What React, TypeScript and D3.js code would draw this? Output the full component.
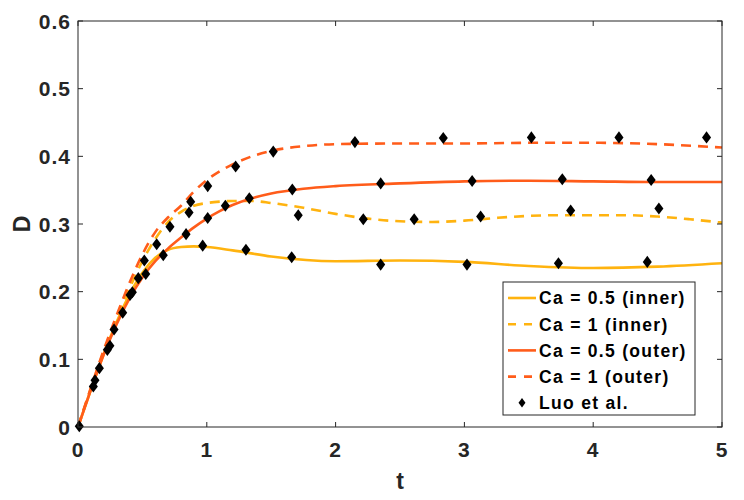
import React from 'react';
import * as d3 from 'd3';

// curve samples
const tInner05 = [0, 0.1, 0.2, 0.3, 0.4, 0.5, 0.6, 0.7, 0.8, 0.9, 1.0, 1.2, 1.5, 2, 2.5, 3, 3.5, 4, 4.5, 5];
const dInner05 = [0, 0.055, 0.108, 0.155, 0.196, 0.228, 0.25, 0.262, 0.266, 0.267, 0.266, 0.261, 0.252, 0.245, 0.246, 0.244, 0.238, 0.235, 0.237, 0.242];

const tInner1 = [0, 0.1, 0.2, 0.3, 0.4, 0.5, 0.6, 0.7, 0.8, 0.9, 1.0, 1.1, 1.2, 1.35, 1.5, 1.75, 2, 2.25, 2.5, 2.75, 3, 3.25, 3.5, 3.75, 4, 4.25, 4.5, 4.75, 5];
const dInner1 = [0, 0.057, 0.112, 0.16, 0.205, 0.245, 0.278, 0.303, 0.318, 0.327, 0.331, 0.333, 0.334, 0.334, 0.331, 0.324, 0.315, 0.308, 0.304, 0.303, 0.305, 0.309, 0.312, 0.313, 0.313, 0.313, 0.311, 0.307, 0.302];

const tOuter05 = [0, 0.1, 0.2, 0.3, 0.4, 0.5, 0.6, 0.7, 0.8, 0.9, 1.0, 1.1, 1.2, 1.35, 1.5, 1.75, 2, 2.5, 3, 3.5, 4, 4.5, 5];
const dOuter05 = [0, 0.055, 0.107, 0.152, 0.19, 0.221, 0.245, 0.264, 0.28, 0.295, 0.308, 0.319, 0.328, 0.338, 0.345, 0.352, 0.356, 0.36, 0.363, 0.364, 0.363, 0.362, 0.362];

const tOuter1 = [0, 0.1, 0.2, 0.3, 0.4, 0.5, 0.6, 0.7, 0.8, 0.9, 1.0, 1.1, 1.2, 1.35, 1.5, 1.75, 2, 2.5, 3, 3.5, 4, 4.5, 5];
const dOuter1 = [0, 0.058, 0.114, 0.165, 0.213, 0.255, 0.288, 0.31, 0.327, 0.348, 0.365, 0.378, 0.388, 0.4, 0.408, 0.415, 0.418, 0.419, 0.419, 0.42, 0.42, 0.418, 0.413];

// Luo et al. markers
const luoT = [0.01, 0.119, 0.132, 0.166, 0.228, 0.248, 0.28, 0.347, 0.404, 0.422, 0.468, 0.526, 0.515, 0.662, 0.611, 0.714, 0.839, 0.862, 0.875, 0.968, 1.007, 1.007, 1.144, 1.224, 1.304, 1.33, 1.516, 1.659, 1.664, 1.71, 2.15, 2.215, 2.35, 2.35, 2.61, 2.836, 3.02, 3.06, 3.126, 3.52, 3.73, 3.76, 3.825, 4.2, 4.42, 4.45, 4.51, 4.88];
const luoD = [0.001, 0.06, 0.069, 0.087, 0.114, 0.12, 0.144, 0.169, 0.195, 0.199, 0.22, 0.226, 0.246, 0.254, 0.27, 0.296, 0.285, 0.317, 0.333, 0.268, 0.356, 0.309, 0.327, 0.385, 0.262, 0.338, 0.407, 0.251, 0.351, 0.313, 0.421, 0.307, 0.36, 0.24, 0.307, 0.427, 0.24, 0.3635, 0.311, 0.428, 0.242, 0.366, 0.32, 0.428, 0.244, 0.365, 0.323, 0.428];

const xTicks = [0, 1, 2, 3, 4, 5];
const yTicks = [0, 0.1, 0.2, 0.3, 0.4, 0.5, 0.6];

const INNER = '#ffb30f';
const OUTER = '#ff5c1a';
const INK = '#262626';
const FONT = '"Liberation Sans", Arial, Helvetica, sans-serif';

const series = [
  { name: 'Ca = 0.5 (inner)', t: tInner05, d: dInner05, color: INNER, dash: null },
  { name: 'Ca = 1 (inner)', t: tInner1, d: dInner1, color: INNER, dash: '10,7' },
  { name: 'Ca = 0.5 (outer)', t: tOuter05, d: dOuter05, color: OUTER, dash: null },
  { name: 'Ca = 1 (outer)', t: tOuter1, d: dOuter1, color: OUTER, dash: '10,7' },
];

export default function App() {
  const width = 744, height = 500;
  const margin = { top: 21, right: 22, bottom: 73, left: 78 };

  const x = d3.scaleLinear().domain([0, 5]).range([margin.left, width - margin.right]);
  const y = d3.scaleLinear().domain([0, 0.6]).range([height - margin.bottom, margin.top]);

  const line = d3.line<[number, number]>()
    .x(p => x(p[0]))
    .y(p => y(p[1]))
    .curve(d3.curveMonotoneX);

  const diamond = d3.symbol().type(d3.symbolDiamond).size(42)();

  const x0 = x(0), x1 = x(5), y0 = y(0), y1 = y(0.6);
  const tickLen = 5;

  // legend box
  const lg = { x: 503, y: 282, w: 192, h: 133, row: 26.2 };

  return (
    <svg width={width} height={height} style={{ position: 'absolute', left: 0, top: 0 }} fontFamily={FONT}>
      <rect x={0} y={0} width={width} height={height} fill="#fff" />

      {/* curves */}
      <g fill="none" strokeWidth={2.6}>
        {series.map(s => (
          <path key={s.name}
            d={line(s.t.map((t, i) => [t, s.d[i]] as [number, number])) || ''}
            stroke={s.color}
            strokeDasharray={s.dash || undefined} />
        ))}
      </g>

      {/* markers */}
      <g fill="#000">
        {luoT.map((t, i) => (
          <path key={i} d={diamond!} transform={`translate(${x(t)},${y(luoD[i])}) scale(1.3,1)`} />
        ))}
      </g>

      {/* box + ticks */}
      <rect x={x0} y={y1} width={x1 - x0} height={y0 - y1} fill="none" stroke={INK} strokeWidth={1} />
      <g stroke={INK} strokeWidth={1}>
        {xTicks.map(t => (
          <g key={'xt' + t}>
            <line x1={x(t)} x2={x(t)} y1={y0} y2={y0 - tickLen} />
            <line x1={x(t)} x2={x(t)} y1={y1} y2={y1 + tickLen} />
          </g>
        ))}
        {yTicks.map(v => (
          <g key={'yt' + v}>
            <line x1={x0} x2={x0 + tickLen} y1={y(v)} y2={y(v)} />
            <line x1={x1} x2={x1 - tickLen} y1={y(v)} y2={y(v)} />
          </g>
        ))}
      </g>

      {/* tick labels */}
      <g fill={INK} fontSize={21} fontWeight="bold" letterSpacing={1}>
        {xTicks.map(t => (
          <text key={'xl' + t} x={x(t)} y={y0 + 30} textAnchor="middle">{t}</text>
        ))}
        {yTicks.map(v => (
          <text key={'yl' + v} x={x0 - 7} y={y(v)} dy="0.36em" textAnchor="end">
            {v === 0 ? '0' : v.toFixed(1)}
          </text>
        ))}
      </g>

      {/* axis labels */}
      <text x={(x0 + x1) / 2} y={489} textAnchor="middle" fontSize={23} fontWeight="bold" fill={INK}>t</text>
      <text transform={`translate(30,${(y0 + y1) / 2}) rotate(-90)`} textAnchor="middle"
        fontSize={23} fontWeight="bold" fill={INK}>D</text>

      {/* legend */}
      <g>
        <rect x={lg.x} y={lg.y} width={lg.w} height={lg.h} fill="#fff" stroke={INK} strokeWidth={1} />
        {series.map((s, i) => {
          const cy = lg.y + 16 + i * lg.row;
          return (
            <g key={'lg' + s.name}>
              <line x1={lg.x + 5} x2={lg.x + 33} y1={cy} y2={cy} stroke={s.color} strokeWidth={2.6}
                strokeDasharray={s.dash ? '8,8' : undefined} />
              <text x={lg.x + 36} y={cy} dy="0.36em" fontSize={17.5} letterSpacing={1.3}
                fontWeight="bold" fill="#000">{s.name}</text>
            </g>
          );
        })}
        <path d={diamond!} transform={`translate(${lg.x + 19},${lg.y + 16 + 4 * lg.row}) scale(1.0,0.8)`} fill="#000" />
        <text x={lg.x + 36} y={lg.y + 16 + 4 * lg.row} dy="0.36em" fontSize={17.5} letterSpacing={1.3}
          fontWeight="bold" fill="#000">Luo et al.</text>
      </g>
    </svg>
  );
}
